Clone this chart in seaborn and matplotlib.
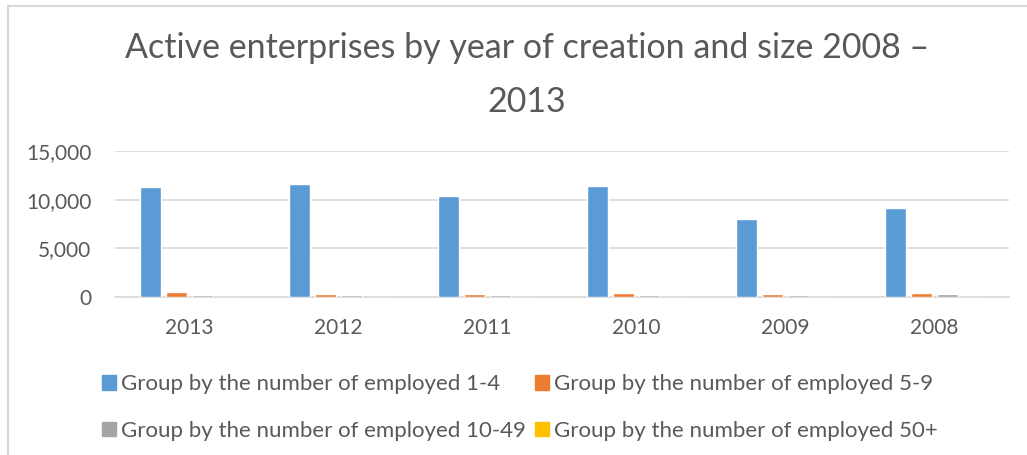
import matplotlib.pyplot as plt
import matplotlib.patches as mpatches
import pandas as pd
import seaborn as sns
from matplotlib.ticker import FuncFormatter

years = ['2013', '2012', '2011', '2010', '2009', '2008']
groups = ['Group by the number of employed 1-4',
          'Group by the number of employed 5-9',
          'Group by the number of employed 10-49',
          'Group by the number of employed 50+']
emp_1_4 = [11350, 11600, 10400, 11400, 8000, 9200]
emp_5_9 = [480, 310, 280, 380, 310, 410]
emp_10_49 = [200, 170, 200, 200, 200, 270]
emp_50 = [30, 25, 25, 30, 40, 45]
colors = ['#5B9BD5', '#ED7D31', '#A5A5A5', '#FFC000']

rows = []
for g, vals in zip(groups, [emp_1_4, emp_5_9, emp_10_49, emp_50]):
    for y, v in zip(years, vals):
        rows.append({'year': y, 'group': g, 'value': v})
df = pd.DataFrame(rows)

sns.set_style('white')
plt.rcParams['font.family'] = ['Lato', 'DejaVu Sans']
text_color = '#595959'
grid_color = '#d9d9d9'

fig = plt.figure(figsize=(10.27, 4.55), dpi=100)
ax = fig.add_axes([0.112, 0.347, 0.8705, 0.321])

sns.barplot(data=df, x='year', y='value', hue='group', order=years,
            hue_order=groups, palette=colors, width=0.7, gap=0.2,
            saturation=1, errorbar=None, ax=ax, legend=False, zorder=3)

ax.set_ylim(0, 15000)
ax.set_yticks([0, 5000, 10000, 15000])
ax.yaxis.set_major_formatter(FuncFormatter(lambda v, p: f'{int(v):,}'))
ax.set_xlim(-0.5, 5.5)
ax.set_xlabel('')
ax.set_ylabel('')
ax.yaxis.grid(True, color=grid_color, lw=1.2, zorder=0)
ax.set_axisbelow(True)
for s in ['top', 'right', 'left']:
    ax.spines[s].set_visible(False)
ax.spines['bottom'].set_color(grid_color)
ax.spines['bottom'].set_linewidth(1.2)
ax.tick_params(axis='both', length=0, labelsize=15, colors=text_color)
ax.tick_params(axis='x', pad=15)
ax.tick_params(axis='y', pad=17)

fig.text(0.513, 0.836, 'Active enterprises by year of creation and size 2008 \u2013\n2013',
         ha='center', va='center', fontsize=24.5, color=text_color,
         linespacing=1.85)

handles = [mpatches.Patch(color=c, label=g) for c, g in zip(colors, groups)]
order = [0, 2, 1, 3]
leg = fig.legend([handles[i] for i in order], [groups[i] for i in order],
                 loc='center', bbox_to_anchor=(0.506, 0.104), ncol=2,
                 frameon=False, fontsize=16, handlelength=0.63, handleheight=0.63,
                 handletextpad=0.22, columnspacing=0.4, labelspacing=1.2)
for t in leg.get_texts():
    t.set_color(text_color)

border = mpatches.Rectangle((0.008, -0.1), 1.2, 1.087, transform=fig.transFigure,
                            fill=False, edgecolor=grid_color, lw=1.5, clip_on=False)
fig.patches.append(border)

fig.savefig('out.png', dpi=100)
